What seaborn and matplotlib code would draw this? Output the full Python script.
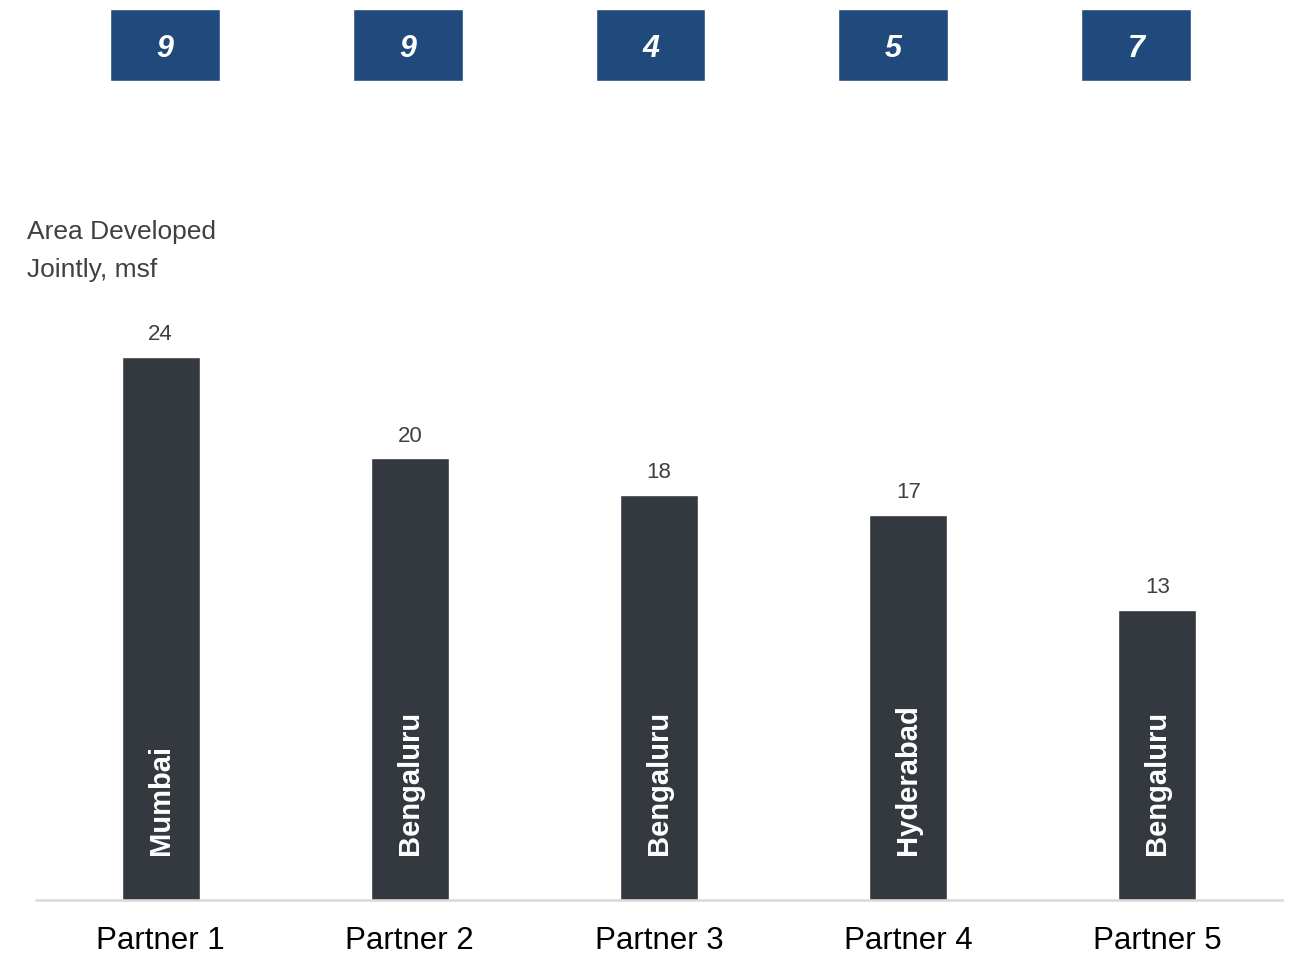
# Area developed jointly with partners - bar chart with city labels and counts on top
import matplotlib
matplotlib.use("Agg")
import matplotlib.pyplot as plt
import seaborn as sns

# data
partners = ["Partner 1", "Partner 2", "Partner 3", "Partner 4", "Partner 5"]
area_msf = [24.0, 19.5, 17.9, 17.0, 12.8]
area_labels = ["24", "20", "18", "17", "13"]
cities = ["Mumbai", "Bengaluru", "Bengaluru", "Hyderabad", "Bengaluru"]
top_counts = [9, 9, 4, 5, 7]

sns.set_style("white")
plt.rcParams["font.family"] = ["Liberation Sans", "DejaVu Sans"]

bar_col = "#343940"
box_col = "#214a7c"
txt_col = "#404040"

W, H = 1292, 955
fig = plt.figure(figsize=(W / 100, H / 100), dpi=100)

# main bar axes: baseline at y=900px, x from 36 to 1282 px
ax = fig.add_axes([36 / W, (H - 900) / H, 1246 / W, 600 / H])
sns.barplot(x=partners, y=area_msf, color=bar_col, saturation=1, width=0.313, ax=ax)
ax.set_xlim(-0.5, 4.5)
ax.set_ylim(0, 26.5)
ax.bar_label(ax.containers[0], labels=area_labels, padding=8.5, fontsize=16, color=txt_col)

for i, city in enumerate(cities):
    ax.text(i, 2.0, city, rotation=90, ha="center", va="bottom",
            color="white", fontsize=21, fontweight="bold")

sns.despine(ax=ax, left=True)
ax.spines["bottom"].set_color("#d9d9d9")
ax.spines["bottom"].set_linewidth(1.8)
ax.set_yticks([])
ax.set_xlabel("")
ax.set_ylabel("")
ax.tick_params(axis="x", length=0, pad=19, labelsize=22.5, labelcolor="black")

fig.text(27 / W, 1 - 220 / H, "Area Developed\nJointly, msf", fontsize=19,
         color=txt_col, ha="left", va="top", linespacing=1.72)

# top row of blue boxes
ax2 = fig.add_axes([43.5 / W, (H - 81) / H, 1214 / W, 72 / H])
ax2.bar(range(len(top_counts)), [1] * len(top_counts), width=0.453, color=box_col)
ax2.set_xlim(-0.5, 4.5)
ax2.set_ylim(0, 1)
for i, n in enumerate(top_counts):
    ax2.text(i, 0.45, str(n), ha="center", va="center", color="white",
             fontsize=22, fontweight="bold", fontstyle="italic")
ax2.axis("off")

plt.savefig("out.png", dpi=100)
